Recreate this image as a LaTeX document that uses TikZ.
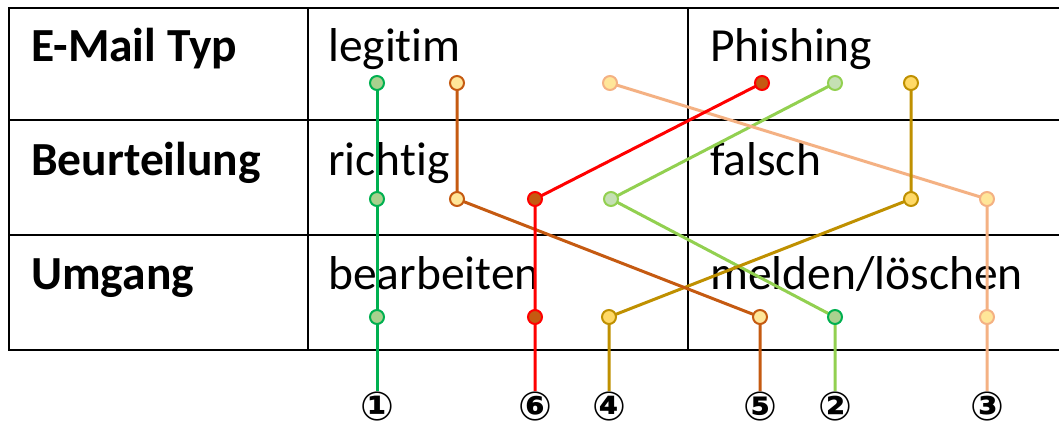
\documentclass[tikz,border=0pt]{standalone}
\usepackage{fontspec}
\setmainfont[Ligatures={NoCommon}]{Carlito}
\newfontfamily\circfont{DejaVu Sans}
\definecolor{cG}{HTML}{00B050}
\definecolor{cGf}{HTML}{A9D18E}
\definecolor{cLG}{HTML}{92D050}
\definecolor{cLGf}{HTML}{C5E0B4}
\definecolor{cBr}{HTML}{C55A11}
\definecolor{cYf}{HTML}{FFE699}
\definecolor{cPe}{HTML}{F4B183}
\definecolor{cRd}{HTML}{FF0000}
\definecolor{cGo}{HTML}{BF9000}
\definecolor{cGof}{HTML}{FFD966}
\tikzset{
  tbl/.style={line width=2.4pt, black},
  lbl/.style={anchor=base west, inner sep=0pt, font=\fontsize{47.5}{50}\selectfont},
  hdr/.style={lbl, font=\fontsize{47.5}{50}\selectfont\bfseries},
  conn/.style={line width=3pt},
  dot/.style={circle, minimum size=14pt, inner sep=0pt, line width=2pt},
  num/.style={inner sep=0pt, font=\circfont\bfseries\fontsize{40}{42}\selectfont}
}
\begin{document}
\begin{tikzpicture}[x=1pt,y=-1pt]
\useasboundingbox (0,0) rectangle (1059,427);
% table
\draw[tbl] (1059,8) -- (9,8) -- (9,350) -- (1059,350);
\draw[tbl] (9,120) -- (1059,120);
\draw[tbl] (9,235) -- (1059,235);
\draw[tbl] (308,8) -- (308,350);
\draw[tbl] (688,8) -- (688,350);
% texts
\node[hdr] (h1) at (31,62) {E-Mail Typ};
\node[hdr] (h2) at (31,176) {Beurteilung};
\node[hdr] (h3) at (31,290) {Umgang};
\node[lbl] (t1) at (328,62) {legitim};
\node[lbl] (t2) at (328,176) {richtig};
\node[lbl] (t3) at (328,290) {bearbeiten};
\node[lbl] (t4) at (710,62) {Phishing};
\node[lbl] (t5) at (710,176) {falsch};
\node[lbl] (t6) at (710,290) {melden/löschen};
% point coordinates
\coordinate (a1) at (377,83);  \coordinate (b1) at (377,199); \coordinate (c1) at (377,317);
\coordinate (a2) at (835,83);  \coordinate (b2) at (611,199); \coordinate (c2) at (835,317);
\coordinate (a3) at (610,83);  \coordinate (b3) at (987,199); \coordinate (c3) at (987,317);
\coordinate (a4) at (911,83);  \coordinate (b4) at (911,199); \coordinate (c4) at (609,317);
\coordinate (a5) at (457,83);  \coordinate (b5) at (457,199); \coordinate (c5) at (760,317);
\coordinate (a6) at (762,83);  \coordinate (b6) at (535,199); \coordinate (c6) at (535,317);
% numbers
\node[num] (n1) at (377,406) {①};
\node[num] (n2) at (835,406) {②};
\node[num] (n3) at (987,406) {③};
\node[num] (n4) at (609,406) {④};
\node[num] (n5) at (760,406) {⑤};
\node[num] (n6) at (535,406) {⑥};
% connectors
\draw[conn, cG]  (a1) -- (b1) -- (c1) -- (n1.north);
\draw[conn, cLG] (a2) -- (b2) -- (c2) -- (n2.north);
\draw[conn, cPe] (a3) -- (b3) -- (c3) -- (n3.north);
\draw[conn, cGo] (a4) -- (b4) -- (c4) -- (n4.north);
\draw[conn, cBr] (a5) -- (b5) -- (c5) -- (n5.north);
\draw[conn, cRd] (a6) -- (b6) -- (c6) -- (n6.north);
% dots
\foreach \p in {a1,b1,c1,c2} \node[dot, draw=cG, fill=cGf] at (\p) {};
\foreach \p in {a2,b2} \node[dot, draw=cLG, fill=cLGf] at (\p) {};
\foreach \p in {a3,b3,c3} \node[dot, draw=cPe, fill=cYf] at (\p) {};
\foreach \p in {a4,b4,c4} \node[dot, draw=cGo, fill=cGof] at (\p) {};
\foreach \p in {a5,b5,c5} \node[dot, draw=cBr, fill=cYf] at (\p) {};
\foreach \p in {a6,b6,c6} \node[dot, draw=cRd, fill=cBr] at (\p) {};
\end{tikzpicture}
\end{document}
